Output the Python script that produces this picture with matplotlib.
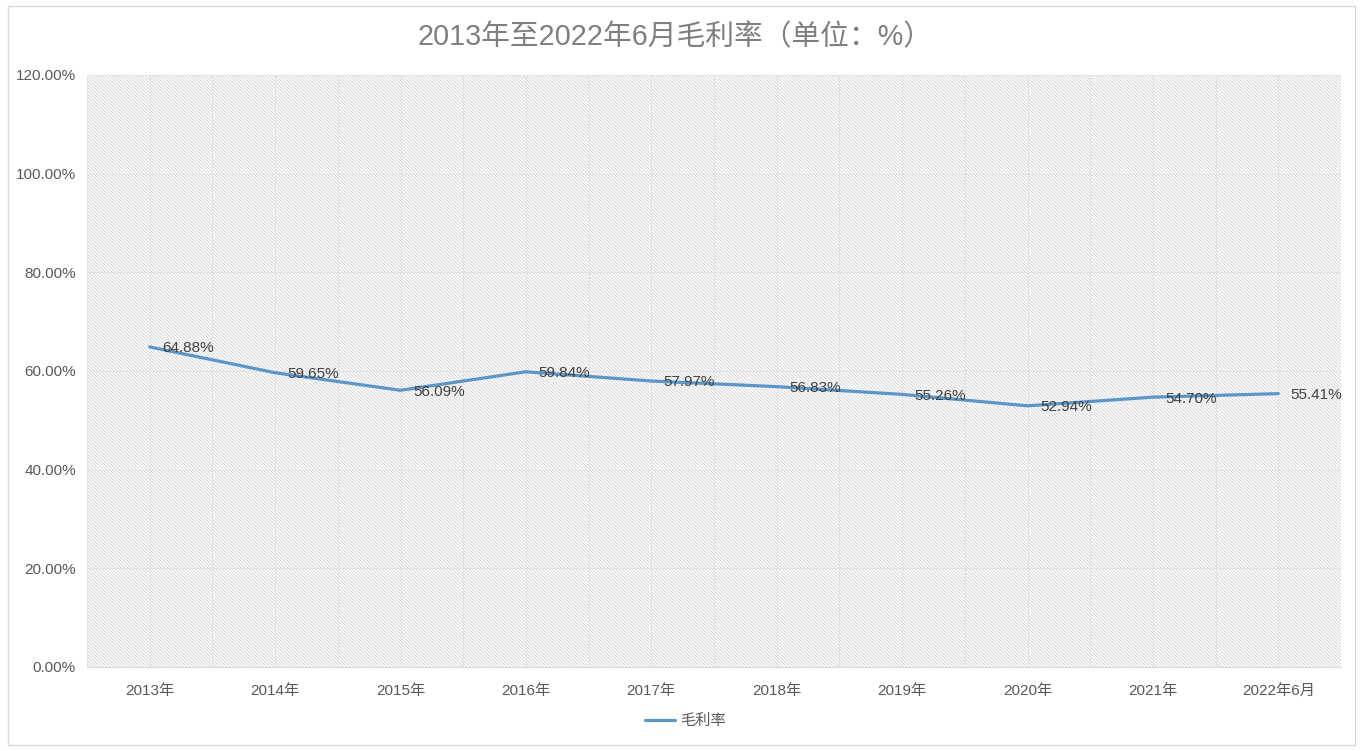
import matplotlib.pyplot as plt
from matplotlib.patches import Rectangle
from matplotlib.ticker import MultipleLocator, FuncFormatter

plt.rcParams['font.family'] = ['Liberation Sans', 'Noto Sans CJK SC']
plt.rcParams['hatch.linewidth'] = 0.6

categories = ['2013年', '2014年', '2015年', '2016年', '2017年',
              '2018年', '2019年', '2020年', '2021年', '2022年6月']
gross_margin = [64.88, 59.65, 56.09, 59.84, 57.97, 56.83, 55.26, 52.94, 54.70, 55.41]
series_name = '毛利率'
title = '2013年至2022年6月毛利率（单位：%）'

fig = plt.figure(figsize=(13.63, 7.51), dpi=100)
fig.patches.append(Rectangle((0.006, 0.008), 0.988, 0.984, transform=fig.transFigure,
                             fill=False, edgecolor='#d9d9d9', linewidth=1))
ax = fig.add_axes([87 / 1363, 1 - 667 / 751, (1341 - 87) / 1363, (667 - 75) / 751])

n = len(categories)
x = list(range(n))
ax.set_xlim(-0.5, n - 0.5)
ax.set_ylim(0, 120)

# hatched plot area
ax.add_patch(Rectangle((0, 0), 1, 1, transform=ax.transAxes, facecolor='white',
                       edgecolor='#d2d2d2', hatch='\\' * 10, linewidth=0, zorder=0))

ax.yaxis.set_major_locator(MultipleLocator(20))
ax.yaxis.set_major_formatter(FuncFormatter(lambda v, p: f'{v:.2f}%'))
ax.set_xticks(x)
ax.set_xticklabels(categories)
ax.set_xticks([i - 0.5 for i in range(n + 1)], minor=True)
ax.grid(True, which='both', color='#e3e3e3', linewidth=0.8, zorder=1)
ax.set_axisbelow(True)

for s in ['top', 'right', 'left']:
    ax.spines[s].set_visible(False)
ax.spines['bottom'].set_color('#d9d9d9')
ax.tick_params(axis='both', which='both', length=0, colors='#595959', labelsize=11)
ax.tick_params(axis='x', pad=12)
ax.tick_params(axis='y', pad=8)

ax.plot(x, gross_margin, color='#5b96c8', linewidth=2.3, solid_capstyle='round',
        label=series_name, zorder=3)

for xi, v in zip(x, gross_margin):
    ax.annotate(f'{v:.2f}%', (xi, v), xytext=(9, -1), textcoords='offset points',
                ha='left', va='center', fontsize=11, color='#404040', zorder=4)

fig.text(675 / 1363, 1 - 37 / 751, title, ha='center', va='center',
         fontsize=20.7, color='#7f7f7f')

leg = fig.legend(loc='center', bbox_to_anchor=(685 / 1363, 1 - 721 / 751),
                 frameon=False, fontsize=11, handlelength=2.0, handletextpad=0.3)
for t in leg.get_texts():
    t.set_color('#595959')

fig.savefig('out.png', dpi=100)
